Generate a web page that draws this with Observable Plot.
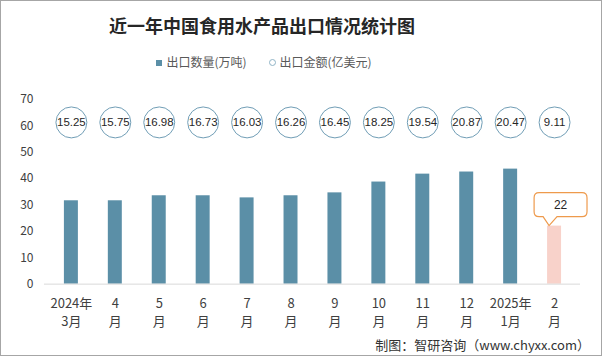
<!DOCTYPE html>
<html>
<head>
<meta charset="utf-8">
<script src="https://cdn.jsdelivr.net/npm/d3@7"></script>
<script src="https://cdn.jsdelivr.net/npm/@observablehq/plot@0.6"></script>
<style>
  html, body { margin: 0; padding: 0; background: #fff; }
  #frame { position: relative; width: 602px; height: 356px; box-sizing: border-box; border: 1px solid #a6a6a6; overflow: hidden; font-family: "Noto Sans CJK SC", "Noto Sans", sans-serif; }
  #title { position: absolute; left: 0; width: 522px; top: 11px; text-align: center; font-size: 18px; font-weight: bold; color: #262626; line-height: 26px; }
  #legend { position: absolute; left: 0; width: 526px; top: 52px; text-align: center; font-size: 12px; color: #595959; line-height: 18px; }
  #legend .sq { display: inline-block; width: 6px; height: 6px; background: #5b8fa7; margin-right: 4px; vertical-align: 1px; }
  #legend .ci { display: inline-block; width: 5px; height: 5px; border: 1px solid #8fb3c6; border-radius: 50%; margin-right: 4px; margin-left: 22px; vertical-align: 1px; }
  #chart { position: absolute; left: -1px; top: 79px; }
  #footer { position: absolute; right: 11px; top: 335px; font-size: 13px; color: #333; line-height: 18px; }
</style>
</head>
<body>
<div id="frame">
  <div id="title">近一年中国食用水产品出口情况统计图</div>
  <div id="legend"><span class="sq"></span>出口数量(万吨)<span class="ci"></span>出口金额(亿美元)</div>
  <div id="chart"></div>
  <div id="footer">制图：智研咨询（www.chyxx.com）</div>
</div>
<script>
const months = ["2024年3月","4月","5月","6月","7月","8月","9月","10月","11月","12月","2025年1月","2月"];
const tickLabels = ["2024年\n3月","4\n月","5\n月","6\n月","7\n月","8\n月","9\n月","10\n月","11\n月","12\n月","2025年\n1月","2\n月"];
const quantity = [31.6, 31.6, 33.5, 33.5, 32.7, 33.5, 34.6, 38.7, 41.7, 42.5, 43.6, 22];
const amount = [15.25, 15.75, 16.98, 16.73, 16.03, 16.26, 16.45, 18.25, 19.54, 20.87, 20.47, 9.11];
const yTicks = [0, 10, 20, 30, 40, 50, 60, 70];
const highlight = [11];

const idx = d3.range(months.length);
const circleLevel = 61.3;

const chart = Plot.plot({
  width: 602,
  height: 256,
  marginTop: 19,
  marginBottom: 52,
  marginLeft: 44,
  marginRight: 21,
  style: { fontFamily: '"Noto Sans CJK SC", "Noto Sans", sans-serif', background: "transparent" },
  x: { domain: months, paddingInner: 0.69, paddingOuter: 0.345, label: null },
  y: { domain: [0, 70], label: null },
  marks: [
    Plot.axisY({ ticks: yTicks, tickSize: 0, tickPadding: 11, fontSize: 12, fill: "#404040", label: null }),
    Plot.axisX({ tickSize: 0, tickPadding: 10, fontSize: 13, fill: "#404040", lineHeight: 1.45,
      tickFormat: (d) => tickLabels[months.indexOf(d)], label: null }),
    Plot.barY(idx, { x: (i) => months[i], y: (i) => quantity[i],
      fill: (i) => highlight.includes(i) ? "#f8d2ca" : "#5b8fa7" }),
    Plot.ruleY([0], { stroke: "#d9d9d9", strokeWidth: 1 }),
    Plot.dot(idx, { x: (i) => months[i], y: () => circleLevel, r: 15.5, stroke: "#6f9db5", strokeWidth: 1, fill: "white" }),
    Plot.text(idx, { x: (i) => months[i], y: () => circleLevel, text: (i) => amount[i].toFixed(2),
      fontSize: 11.5, fill: "#262626", fontFamily: '"Liberation Sans", Arial, sans-serif' }),
    // callout for the highlighted bar
    Plot.dot(highlight, {
      x: (i) => months[i], y: (i) => quantity[i], r: 0,
      render: (I, scales, values, dims) => {
        const g = d3.create("svg:g");
        for (const i of I) {
          const bw = scales.x.bandwidth ? scales.x.bandwidth() : 0;
          const cx = scales.x(months[highlight[i]]) + bw / 2;
          const py = scales.y(quantity[highlight[i]]);
          const px = cx - 5;
          const bottom = py - 9, top = bottom - 24;
          const left = px - 15, right = px + 38, r = 5;
          const path = [
            `M${left + r},${top}`,
            `H${right - r}`, `Q${right},${top} ${right},${top + r}`,
            `V${bottom - r}`, `Q${right},${bottom} ${right - r},${bottom}`,
            `H${px + 8}`, `L${px},${py}`, `L${px - 6},${bottom}`,
            `H${left + r}`, `Q${left},${bottom} ${left},${bottom - r}`,
            `V${top + r}`, `Q${left},${top} ${left + r},${top}`, "Z"
          ].join(" ");
          g.append("path").attr("d", path).attr("fill", "white").attr("stroke", "#ee9a4c").attr("stroke-width", 1.2);
          g.append("text").attr("x", (left + right) / 2).attr("y", (top + bottom) / 2)
            .attr("dy", "0.35em").attr("text-anchor", "middle").attr("font-size", 12)
            .attr("fill", "#262626").attr("font-family", '"Liberation Sans", Arial, sans-serif')
            .text(String(quantity[highlight[i]]));
        }
        return g.node();
      }
    })
  ]
});
document.getElementById("chart").appendChild(chart);
</script>
</body>
</html>
